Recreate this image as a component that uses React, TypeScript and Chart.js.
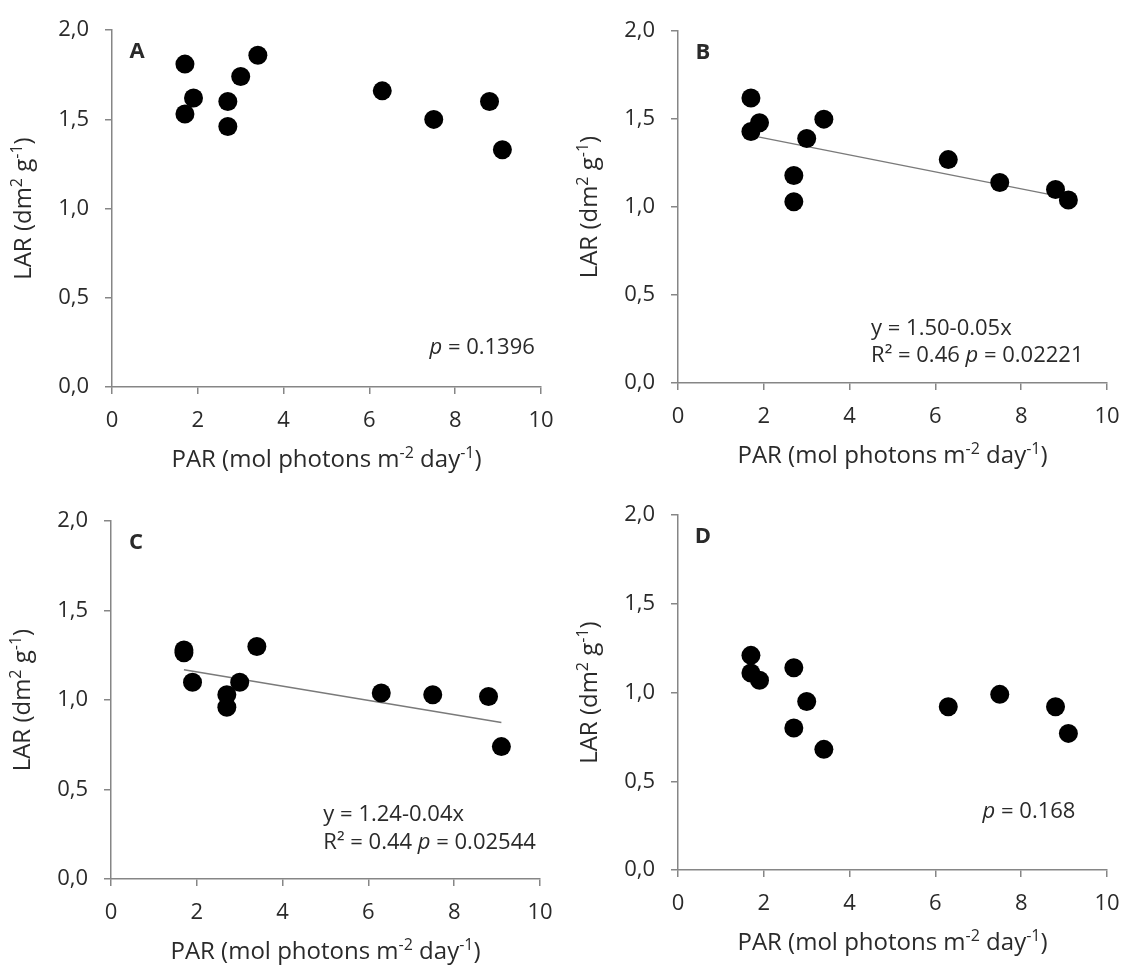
import React, { useEffect, useRef } from 'react';
import { Chart, registerables } from 'chart.js';

Chart.register(...registerables);

// ---- data ----
const parValues = [1.7, 1.7, 1.9, 2.7, 2.7, 3.0, 3.4, 6.3, 7.5, 8.8, 9.1];
const larA = [1.81, 1.53, 1.62, 1.60, 1.46, 1.74, 1.86, 1.66, 1.50, 1.60, 1.33];
const larB = [1.62, 1.43, 1.48, 1.18, 1.03, 1.39, 1.50, 1.27, 1.14, 1.10, 1.04];
const larC = [1.28, 1.265, 1.10, 1.03, 0.96, 1.10, 1.30, 1.04, 1.03, 1.02, 0.74];
const larD = [1.21, 1.11, 1.07, 1.14, 0.80, 0.95, 0.68, 0.92, 0.99, 0.92, 0.77];
const trendParB = [1.75, 8.8];
const trendLarB = [1.405, 1.065];
const trendParC = [1.7, 9.1];
const trendLarC = [1.17, 0.875];
const xTickLabels = ['0', '2', '4', '6', '8', '10'];
const yTickLabels = ['0,0', '0,5', '1,0', '1,5', '2,0'];
const panelLetters = ['A', 'B', 'C', 'D'];

// [text, isSuperscript / isItalic]
type Part = [string, boolean];
const xTitleParts: Part[] = [['PAR (mol photons m', false], ['-2', true], [' day', false], ['-1', true], [')', false]];
const yTitleParts: Part[] = [['LAR (dm', false], ['2', true], [' g', false], ['-1', true], [')', false]];

type Note = { x: number; y: number; parts: Part[] };
const notesA: Note[] = [{ x: 7.4, y: 0.22, parts: [['p', true], [' = 0.1396', false]] }];
const notesB: Note[] = [
  { x: 4.5, y: 0.31, parts: [['y = 1.50-0.05x', false]] },
  { x: 4.5, y: 0.155, parts: [['R\u00B2 = 0.46 ', false], ['p', true], [' = 0.02221', false]] },
];
const notesC: Note[] = [
  { x: 4.95, y: 0.36, parts: [['y = 1.24-0.04x', false]] },
  { x: 4.95, y: 0.205, parts: [['R\u00B2 = 0.44 ', false], ['p', true], [' = 0.02544', false]] },
];
const notesD: Note[] = [{ x: 7.1, y: 0.327, parts: [['p', true], [' = 0.168', false]] }];

const FONT = "'Open Sans', Lato, sans-serif";
const FS = 22;
const TITLE_FS = 24;
const NOTE_FS = 22;
const TEXT = '#2a2a2a';
const AXIS = '#868686';

type Panel = {
  letter: string;
  lar: number[];
  trendX?: number[];
  trendY?: number[];
  notes: Note[];
  left: number;
  top: number;
  plotH: number;
};

const PLOT_W = 429;
const Y_W = 110;
const X_H = 95;
const PAD_T = 20;
const PAD_R = 27;

const panels: Panel[] = [
  { letter: panelLetters[0], lar: larA, notes: notesA, left: 2, top: 1, plotH: 366 },
  { letter: panelLetters[1], lar: larB, trendX: trendParB, trendY: trendLarB, notes: notesB, left: 568, top: 2, plotH: 361 },
  { letter: panelLetters[2], lar: larC, trendX: trendParC, trendY: trendLarC, notes: notesC, left: 1, top: 492, plotH: 367 },
  { letter: panelLetters[3], lar: larD, notes: notesD, left: 568, top: 486, plotH: 364 },
];

function drawRich(ctx: CanvasRenderingContext2D, parts: Part[], cx: number, cy: number, size: number) {
  const supSize = Math.round(size * 0.68);
  const widths = parts.map(([s, sup]) => {
    ctx.font = `${sup ? supSize : size}px ${FONT}`;
    return ctx.measureText(s).width;
  });
  const total = widths.reduce((a, b) => a + b, 0);
  let x = cx - total / 2;
  const base = cy + size * 0.36;
  ctx.textAlign = 'left';
  ctx.textBaseline = 'alphabetic';
  parts.forEach(([s, sup], i) => {
    ctx.font = `${sup ? supSize : size}px ${FONT}`;
    ctx.fillText(s, x, sup ? base - size * 0.36 : base);
    x += widths[i];
  });
}

function textPlugin(panel: Panel) {
  return {
    id: 'panelText' + panel.letter,
    afterDraw(chart: any) {
      const ctx = chart.ctx as CanvasRenderingContext2D;
      const xs = chart.scales.x;
      const ys = chart.scales.y;
      const area = chart.chartArea;
      ctx.save();
      ctx.fillStyle = TEXT;
      // panel letter
      ctx.textBaseline = 'middle';
      ctx.textAlign = 'center';
      ctx.font = `bold 22px ${FONT}`;
      ctx.fillText(panel.letter, area.left + 25, area.top + 22);
      // axis titles
      drawRich(ctx, xTitleParts, (area.left + area.right) / 2, area.bottom + 71, TITLE_FS);
      ctx.save();
      ctx.translate(area.left - 90, (area.top + area.bottom) / 2);
      ctx.rotate(-Math.PI / 2);
      drawRich(ctx, yTitleParts, 0, 0, TITLE_FS);
      ctx.restore();
      // statistics notes
      ctx.textAlign = 'left';
      ctx.textBaseline = 'middle';
      for (const n of panel.notes) {
        let px = xs.getPixelForValue(n.x);
        const py = ys.getPixelForValue(n.y);
        for (const [s, it] of n.parts) {
          ctx.font = `${it ? 'italic ' : ''}${NOTE_FS}px ${FONT}`;
          ctx.fillText(s, px, py);
          px += ctx.measureText(s).width;
        }
      }
      ctx.restore();
    },
  };
}

function PanelChart({ panel }: { panel: Panel }) {
  const ref = useRef<HTMLCanvasElement | null>(null);
  const width = Y_W + PLOT_W + PAD_R;
  const height = PAD_T + panel.plotH + X_H;
  useEffect(() => {
    if (!ref.current) return;
    const datasets: any[] = [
      {
        label: 'LAR',
        data: parValues.map((x, i) => ({ x, y: panel.lar[i] })),
        backgroundColor: '#000000',
        borderColor: '#000000',
        pointRadius: 9.5,
        pointBorderWidth: 0,
        order: 1,
      },
    ];
    if (panel.trendX && panel.trendY) {
      datasets.push({
        label: 'fit',
        data: panel.trendX.map((x, i) => ({ x, y: panel.trendY![i] })),
        showLine: true,
        borderColor: '#7a7a7a',
        borderWidth: 1.4,
        pointRadius: 0,
        fill: false,
        order: 2,
      });
    }
    const chart = new Chart(ref.current, {
      type: 'scatter',
      data: { datasets },
      options: {
        animation: false,
        responsive: false,
        events: [],
        layout: { padding: { left: 0, top: PAD_T, right: PAD_R, bottom: 0 } },
        plugins: { legend: { display: false }, tooltip: { enabled: false } },
        scales: {
          x: {
            type: 'linear',
            min: 0,
            max: 10,
            afterFit: (s: any) => { s.height = X_H; },
            ticks: {
              stepSize: 2,
              color: TEXT,
              font: { family: FONT, size: FS },
              padding: 14,
              maxRotation: 0,
              callback: (v: any, i: number) => xTickLabels[i] ?? String(v),
            },
            grid: { drawOnChartArea: false, drawTicks: true, tickLength: 7, color: AXIS, lineWidth: 1.5 },
            border: { display: true, color: AXIS, width: 1.5 },
            title: { display: false },
          },
          y: {
            type: 'linear',
            min: 0,
            max: 2,
            afterFit: (s: any) => { s.width = Y_W; },
            ticks: {
              stepSize: 0.5,
              color: TEXT,
              font: { family: FONT, size: FS },
              padding: 16,
              callback: (v: any, i: number) => yTickLabels[i] ?? String(v),
            },
            grid: { drawOnChartArea: false, drawTicks: true, tickLength: 7, color: AXIS, lineWidth: 1.5 },
            border: { display: true, color: AXIS, width: 1.5 },
            title: { display: false },
          },
        },
      },
      plugins: [textPlugin(panel)],
    } as any);
    return () => chart.destroy();
  }, [panel]);
  return (
    <canvas
      ref={ref}
      width={width}
      height={height}
      style={{ position: 'absolute', left: panel.left, top: panel.top, width, height }}
    />
  );
}

export default function App() {
  return (
    <div
      style={{
        position: 'fixed',
        left: 0,
        top: 0,
        width: 1136,
        height: 965,
        overflow: 'hidden',
        background: '#ffffff',
      }}
    >
      {panels.map((p) => (
        <PanelChart key={p.letter} panel={p} />
      ))}
    </div>
  );
}
